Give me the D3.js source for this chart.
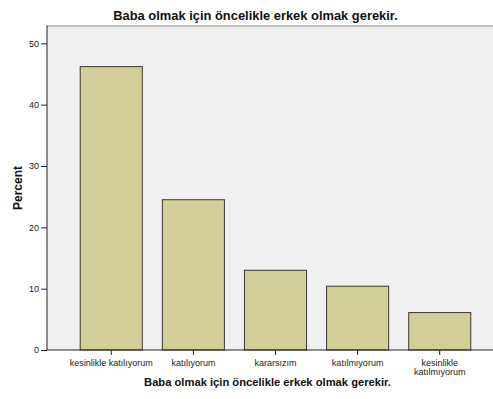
<!DOCTYPE html>
<html>
<head>
<meta charset="utf-8">
<script src="https://cdn.jsdelivr.net/npm/d3@7"></script>
<style>
  html, body { margin: 0; padding: 0; background: #ffffff; }
  svg { display: block; font-family: "Liberation Sans", Arial, sans-serif; }
</style>
</head>
<body>
<svg id="chart" width="493" height="399"></svg>
<script>
const chartTitle = "Baba olmak için öncelikle erkek olmak gerekir.";
const xAxisTitle = "Baba olmak için öncelikle erkek olmak gerekir.";
const yAxisTitle = "Percent";
const categories = [
  ["kesinlikle katılıyorum"],
  ["katılıyorum"],
  ["kararsızım"],
  ["katılmıyorum"],
  ["kesinlikle", "katılmıyorum"]
];
const percents = [46.2, 24.5, 13.0, 10.4, 6.1];
const yTicks = [0, 10, 20, 30, 40, 50];

const svg = d3.select("#chart");
const plotLeft = 47, plotTop = 25.5, plotRight = 493, plotBottom = 350;

const keys = categories.map(c => c.join(" "));
const x = d3.scaleBand().domain(keys).range([70.2, 480.8])
  .paddingInner(0.244).paddingOuter(0.122);
const y = d3.scaleLinear().domain([0, 50]).range([plotBottom, 43.3]);

// plot background
svg.append("rect")
  .attr("x", plotLeft).attr("y", plotTop)
  .attr("width", plotRight - plotLeft).attr("height", plotBottom - plotTop)
  .attr("fill", "#f0f0f0");
svg.append("line")
  .attr("x1", plotLeft).attr("x2", plotRight)
  .attr("y1", plotTop + 0.5).attr("y2", plotTop + 0.5)
  .attr("stroke", "#8a8a8a").attr("stroke-width", 1.2);

// bars
svg.append("g").selectAll("rect").data(percents).join("rect")
  .attr("x", (d, i) => x(keys[i]))
  .attr("y", d => y(d))
  .attr("width", x.bandwidth())
  .attr("height", d => plotBottom - y(d))
  .attr("fill", "#d3ce97")
  .attr("stroke", "#3a3a32")
  .attr("stroke-width", 1);

// y axis
const yAxis = d3.axisLeft(y).tickValues(yTicks).tickSize(6).tickPadding(2).tickFormat(d3.format("d"));
const gy = svg.append("g").attr("transform", `translate(${plotLeft},0)`).call(yAxis);
gy.select(".domain").attr("d", `M0,${plotTop}V${plotBottom}`).attr("stroke", "#222");
gy.selectAll(".tick line").attr("stroke", "#222");
gy.selectAll(".tick text").attr("font-size", 9).attr("fill", "#222")
  .attr("font-family", "Liberation Sans, Arial, sans-serif");

// x axis
const xAxis = d3.axisBottom(x).tickSize(5).tickFormat("");
const gx = svg.append("g").attr("transform", `translate(0,${plotBottom})`).call(xAxis);
gx.select(".domain").attr("d", `M${plotLeft},0H${plotRight}`).attr("stroke", "#222");
gx.selectAll(".tick line").attr("stroke", "#222");
gx.selectAll(".tick").each(function(d, i) {
  const t = d3.select(this).append("text")
    .attr("text-anchor", "middle").attr("font-size", 9).attr("fill", "#222")
    .attr("font-family", "Liberation Sans, Arial, sans-serif");
  categories[i].forEach((line, j) => {
    t.append("tspan").attr("x", 0).attr("y", 16 + j * 9).text(line);
  });
});

// titles
svg.append("text").attr("x", 255.5).attr("y", 20)
  .attr("text-anchor", "middle").attr("font-weight", "bold").attr("font-size", 12.9)
  .attr("fill", "#111").text(chartTitle);
svg.append("text").attr("x", 267.5).attr("y", 386)
  .attr("text-anchor", "middle").attr("font-weight", "bold").attr("font-size", 11.2)
  .attr("fill", "#111").text(xAxisTitle);
svg.append("text").attr("transform", "translate(22,188) rotate(-90)")
  .attr("text-anchor", "middle").attr("font-weight", "bold").attr("font-size", 12)
  .attr("fill", "#111").text(yAxisTitle);
</script>
</body>
</html>
